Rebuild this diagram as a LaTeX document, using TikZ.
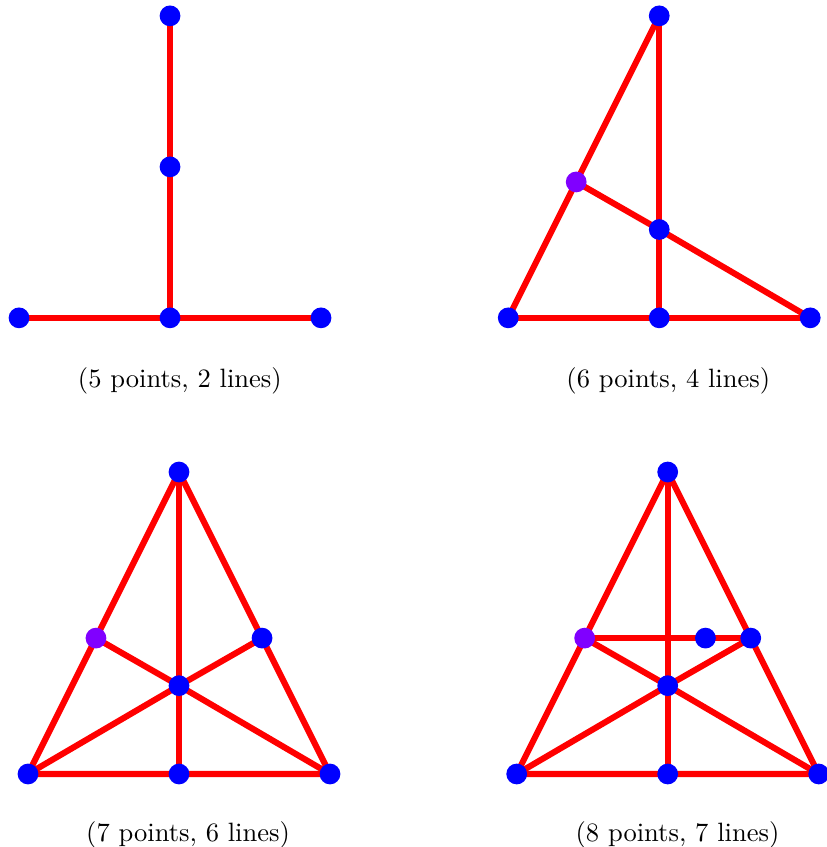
\documentclass[tikz,border=0pt]{standalone}
\usepackage{tikz}
\usetikzlibrary{backgrounds}
\definecolor{cPoint}{HTML}{0000FF}
\definecolor{cMixed}{HTML}{8000FF}
\definecolor{cLine}{HTML}{FF0000}

\begin{document}
\begin{tikzpicture}[
    pt/.style={circle, fill=cPoint, inner sep=0pt, minimum size=2.75mm},
    mix/.style={pt, fill=cMixed},
    ln/.style={draw=cLine, line width=2.3pt},
    lbl/.style={draw=none, font=\normalsize}
]
\useasboundingbox (0,0) rectangle (10.954,-11.219);

% 5 points, 2 lines
\begin{scope}[shift={(2.252,-4.21)}, x=2cm, y=2cm]
\node[pt] (a1) at (-1,0) {};
\node[pt] (a2) at (0,0) {};
\node[pt] (a3) at (1,0) {};
\node[pt] (a4) at (0,1) {};
\node[pt] (a5) at (0,2) {};
\begin{scope}[on background layer]
\draw[ln] (a1.center) -- (a3.center);
\draw[ln] (a2.center) -- (a5.center);
\end{scope}
\node[lbl] (t1) at (0.065,-0.415) {(5 points, 2 lines)};
\end{scope}

% 6 points, 4 lines
\begin{scope}[shift={(8.732,-4.21)}, x=2cm, y=2cm]
\node[pt] (b1) at (-1,0) {};
\node[pt] (b2) at (0,0) {};
\node[pt] (b3) at (1,0) {};
\node[pt] (b4) at (0,2) {};
\node[mix] (b5) at (-0.55,0.9) {};
\node[pt] (b6) at (0,0.585) {};
\begin{scope}[on background layer]
\draw[ln] (b1.center) -- (b3.center);
\draw[ln] (b1.center) -- (b4.center);
\draw[ln] (b2.center) -- (b4.center);
\draw[ln] (b5.center) -- (b6.center) -- (b3.center);
\end{scope}
\node[lbl] (t2) at (0.06,-0.415) {(6 points, 4 lines)};
\end{scope}

% 7 points, 6 lines
\begin{scope}[shift={(2.371,-10.252)}, x=2cm, y=2cm]
\node[pt] (c1) at (-1,0) {};
\node[pt] (c2) at (0,0) {};
\node[pt] (c3) at (1,0) {};
\node[pt] (c4) at (0,2) {};
\node[mix] (c5) at (-0.55,0.9) {};
\node[pt] (c6) at (0.55,0.9) {};
\node[pt] (c7) at (0,0.585) {};
\begin{scope}[on background layer]
\draw[ln] (c1.center) -- (c3.center) -- (c4.center) -- cycle;
\draw[ln] (c2.center) -- (c4.center);
\draw[ln] (c5.center) -- (c7.center) -- (c3.center);
\draw[ln] (c1.center) -- (c7.center) -- (c6.center);
\end{scope}
\node[lbl] (t3) at (0.06,-0.405) {(7 points, 6 lines)};
\end{scope}

% 8 points, 7 lines
\begin{scope}[shift={(8.844,-10.252)}, x=2cm, y=2cm]
\node[pt] (d1) at (-1,0) {};
\node[pt] (d2) at (0,0) {};
\node[pt] (d3) at (1,0) {};
\node[pt] (d4) at (0,2) {};
\node[mix] (d5) at (-0.55,0.9) {};
\node[pt] (d6) at (0.55,0.9) {};
\node[pt] (d7) at (0,0.585) {};
\node[pt] (d8) at (0.25,0.9) {};
\begin{scope}[on background layer]
\draw[ln] (d1.center) -- (d3.center) -- (d4.center) -- cycle;
\draw[ln] (d2.center) -- (d4.center);
\draw[ln] (d5.center) -- (d7.center) -- (d3.center);
\draw[ln] (d1.center) -- (d7.center) -- (d6.center);
\draw[ln] (d5.center) -- (d6.center);
\end{scope}
\node[lbl] (t4) at (0.065,-0.405) {(8 points, 7 lines)};
\end{scope}

\end{tikzpicture}
\end{document}
